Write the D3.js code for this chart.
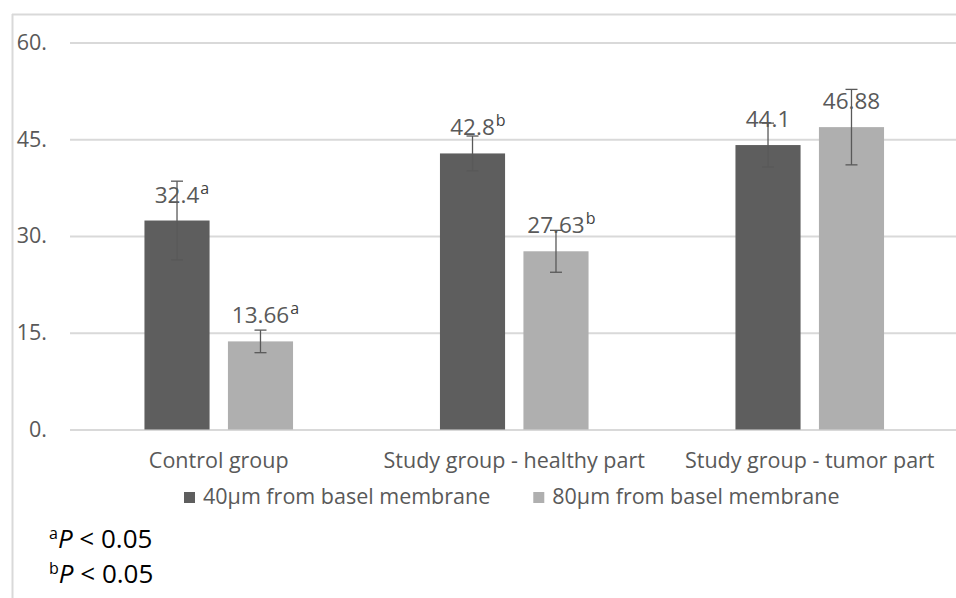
<!DOCTYPE html>
<html>
<head>
<meta charset="utf-8">
<script src="https://cdn.jsdelivr.net/npm/d3@7"></script>
<style>
  body { margin: 0; background: #fff; }
  svg { display: block; font-family: "Open Sans", sans-serif; }
</style>
</head>
<body>
<script>
// chart data
var categories = ["Control group", "Study group - healthy part", "Study group - tumor part"];
var seriesNames = ["40\u00b5m from basel membrane", "80\u00b5m from basel membrane"];
var values40 = [32.4, 42.8, 44.1];
var values80 = [13.66, 27.63, 46.88];
var errors40 = [6.1, 2.7, 3.4];
var errors80 = [1.75, 3.25, 5.85];
var marks40 = ["a", "b", ""];
var marks80 = ["a", "b", ""];
var yTicks = [0, 15, 30, 45, 60];
var footnotes = ["a", "b"];

var svgWidth = 956;
var svgHeight = 598;

var margin = { top: 42.5, right: -1.5, bottom: 168.5, left: 71 };
var chartWidth = svgWidth - margin.left - margin.right;
var chartHeight = svgHeight - margin.top - margin.bottom;

var colors = ["#5e5e5e", "#afafaf"];
var textColor = "#595959";

var svg = d3.select("body")
  .append("svg")
  .attr("width", svgWidth)
  .attr("height", svgHeight);

// outer frame (only top and left edges are visible)
svg.append("line")
  .attr("x1", 12).attr("x2", svgWidth)
  .attr("y1", 14.5).attr("y2", 14.5)
  .attr("stroke", "#d9d9d9").attr("stroke-width", 2);
svg.append("line")
  .attr("x1", 12.5).attr("x2", 12.5)
  .attr("y1", 14).attr("y2", svgHeight)
  .attr("stroke", "#d9d9d9").attr("stroke-width", 2);

var chartGroup = svg.append("g")
  .attr("transform", `translate(${margin.left}, ${margin.top})`);

// build rows for the bars
var data = categories.map((c, i) => ({
  category: c,
  bars: [
    { series: seriesNames[0], value: values40[i], err: errors40[i], mark: marks40[i] },
    { series: seriesNames[1], value: values80[i], err: errors80[i], mark: marks80[i] }
  ]
}));

var x0 = d3.scaleBand()
  .domain(categories)
  .range([0, chartWidth]);

var x1 = d3.scaleBand()
  .domain(seriesNames)
  .range([0, x0.bandwidth()])
  .paddingInner(0.22)
  .paddingOuter(0.88);

var y = d3.scaleLinear()
  .domain([0, 60])
  .range([chartHeight, 0]);

var color = d3.scaleOrdinal().domain(seriesNames).range(colors);

// gridlines + y labels
var leftAxis = d3.axisLeft(y)
  .tickValues(yTicks)
  .tickSize(-(chartWidth + 1))
  .tickPadding(23)
  .tickFormat(d => d + ".");

var yAxis = chartGroup.append("g")
  .attr("transform", "translate(-1,0)")
  .call(leftAxis);
yAxis.select(".domain").remove();
yAxis.selectAll(".tick line")
  .attr("stroke", "#d9d9d9")
  .attr("stroke-width", 2);
yAxis.selectAll(".tick text")
  .attr("fill", textColor)
  .style("font-size", "21.5px")
  .style("font-family", "Open Sans, sans-serif");

// bars
var groups = chartGroup.selectAll(".group")
  .data(data)
  .enter()
  .append("g")
  .attr("class", "group")
  .attr("transform", d => `translate(${x0(d.category)},0)`);

groups.selectAll("rect")
  .data(d => d.bars)
  .enter()
  .append("rect")
  .attr("x", d => x1(d.series))
  .attr("y", d => y(d.value))
  .attr("width", x1.bandwidth())
  .attr("height", d => chartHeight - y(d.value))
  .attr("fill", d => color(d.series));

// error bars
var capHalf = 6;
var errs = groups.selectAll(".err")
  .data(d => d.bars)
  .enter()
  .append("g")
  .attr("class", "err")
  .attr("stroke", "#595959")
  .attr("stroke-width", 1.3);

errs.append("line")
  .attr("x1", d => x1(d.series) + x1.bandwidth() / 2)
  .attr("x2", d => x1(d.series) + x1.bandwidth() / 2)
  .attr("y1", d => y(d.value + d.err))
  .attr("y2", d => y(d.value - d.err));
errs.append("line")
  .attr("x1", d => x1(d.series) + x1.bandwidth() / 2 - capHalf)
  .attr("x2", d => x1(d.series) + x1.bandwidth() / 2 + capHalf)
  .attr("y1", d => y(d.value + d.err))
  .attr("y2", d => y(d.value + d.err));
errs.append("line")
  .attr("x1", d => x1(d.series) + x1.bandwidth() / 2 - capHalf)
  .attr("x2", d => x1(d.series) + x1.bandwidth() / 2 + capHalf)
  .attr("y1", d => y(d.value - d.err))
  .attr("y2", d => y(d.value - d.err));

// value labels, the number is centred and the letter hangs on the right
groups.selectAll(".lbl")
  .data(d => d.bars)
  .enter()
  .append("g")
  .attr("class", "lbl")
  .each(function(d) {
    var g = d3.select(this);
    var cx = x1(d.series) + x1.bandwidth() / 2;
    var by = y(d.value) - 18;
    var t = g.append("text")
      .attr("x", cx)
      .attr("y", by)
      .attr("text-anchor", "middle")
      .attr("fill", textColor)
      .style("font-size", "22.5px")
      .text(d.value);
    if (d.mark) {
      var w = t.node().getComputedTextLength();
      g.append("text")
        .attr("x", cx + w / 2 + 1)
        .attr("y", by - 9)
        .attr("fill", "#404040")
        .style("font-size", "16px")
        .text(d.mark);
    }
  });

// category labels
chartGroup.selectAll(".cat")
  .data(categories)
  .enter()
  .append("text")
  .attr("class", "cat")
  .attr("x", d => x0(d) + x0.bandwidth() / 2)
  .attr("y", chartHeight + 38)
  .attr("text-anchor", "middle")
  .attr("fill", textColor)
  .style("font-size", "21.5px")
  .text(d => d);

// legend
var legend = svg.append("g");
var items = legend.selectAll(".item")
  .data(seriesNames)
  .enter()
  .append("g")
  .attr("class", "item");
items.append("rect")
  .attr("width", 11)
  .attr("height", 11)
  .attr("y", 492)
  .attr("fill", d => color(d));
items.append("text")
  .attr("x", 19)
  .attr("y", 504)
  .attr("fill", textColor)
  .style("font-size", "21.5px")
  .text(d => d);

var legendX = 184;
items.each(function() {
  var item = d3.select(this);
  item.attr("transform", `translate(${legendX},0)`);
  legendX += 19 + item.select("text").node().getComputedTextLength() + 43;
});

// footnotes
var notes = svg.selectAll(".note")
  .data(footnotes)
  .enter()
  .append("text")
  .attr("class", "note")
  .attr("x", 49)
  .attr("y", (d, i) => 548 + i * 35)
  .attr("fill", "#000")
  .style("font-size", "26px");
notes.append("tspan")
  .style("font-size", "16px")
  .attr("dy", -9)
  .text(d => d);
notes.append("tspan")
  .attr("dy", 9)
  .style("font-style", "italic")
  .text("P");
notes.append("tspan")
  .text(" < 0.05");
</script>
</body>
</html>
